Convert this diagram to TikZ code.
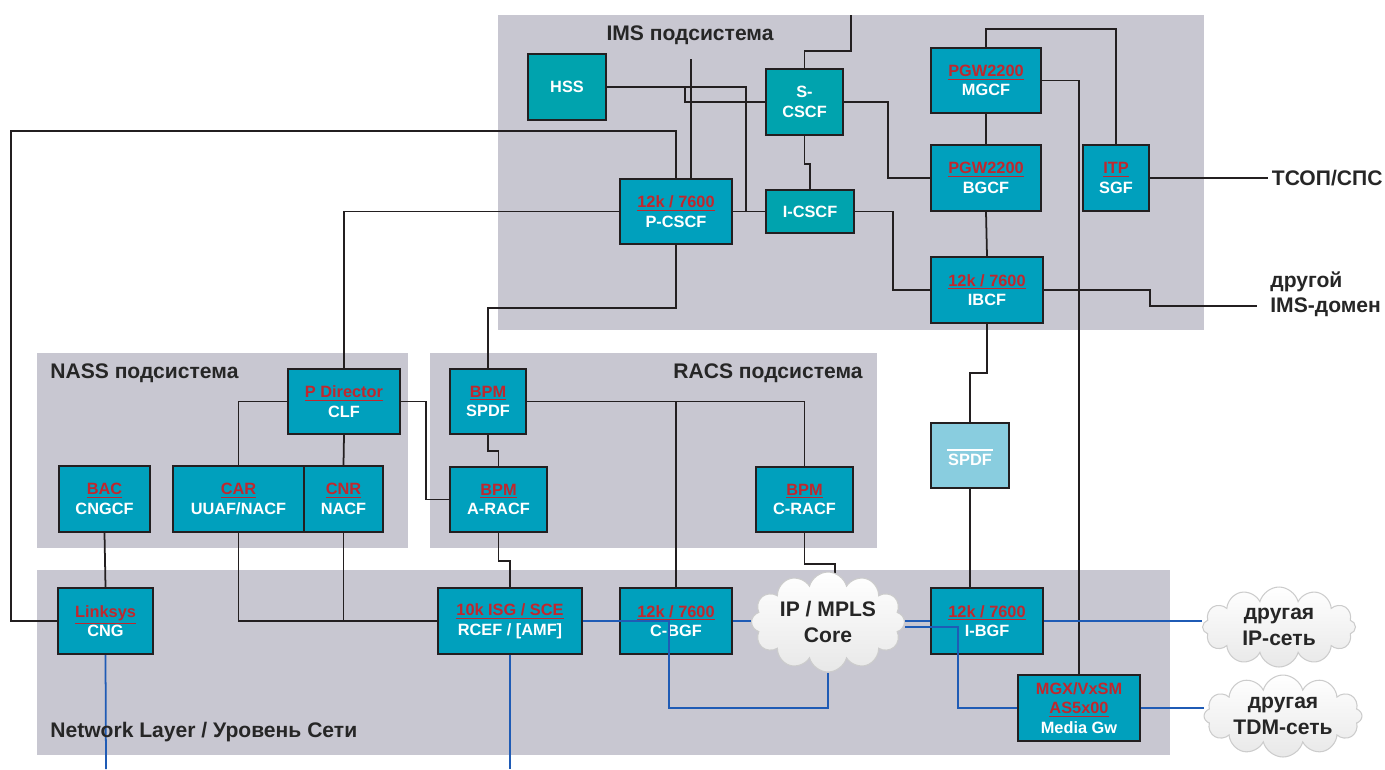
\documentclass[tikz,border=0pt]{standalone}
\usepackage{fontspec}
\setmainfont{Liberation Sans}
\usepackage{xcolor}
\usepackage{tikz}
\usetikzlibrary{shapes.symbols, positioning, calc}

\definecolor{subsys}{RGB}{200,199,209}
\definecolor{tealbox}{RGB}{0,163,174}
\definecolor{cyanbox}{RGB}{0,160,189}
\definecolor{lightbox}{RGB}{137,205,223}
\definecolor{devred}{RGB}{193,39,45}
\definecolor{ipblue}{RGB}{31,91,181}
\definecolor{edge}{RGB}{35,31,32}

\pgfdeclarelayer{regions}
\pgfdeclarelayer{wires}
\pgfdeclarelayer{front}
\pgfsetlayers{regions,wires,main,front}

\newcommand{\devlabel}[2]{\textcolor{devred}{\underline{#1}}\\#2}

\begin{document}
\begin{tikzpicture}[
        x=0.02cm, y=-0.02cm,
        % styles for the subsystems, the boxes and the links
        region/.style={fill=subsys, draw=none},
        title/.style={font=\fontsize{12}{14.4}\selectfont\bfseries, text=black!85, inner sep=0pt},
        box/.style={draw=edge, line width=1.3pt, fill=cyanbox, text=white, align=center, inner sep=1pt,
                    font=\fontsize{9.3}{11.2}\selectfont\bfseries},
        imsbox/.style={box, fill=tealbox},
        link/.style={draw=edge, line width=1pt},
        iplink/.style={draw=ipblue, line width=1pt},
        net/.style={cloud, cloud puffs=12, cloud ignores aspect, draw=gray!40, line width=0.6pt,
                    top color=white, bottom color=gray!18, inner sep=0pt},
        nettext/.style={align=center, text=black!85, font=\fontsize{12}{14.4}\selectfont\bfseries}
    ]
    \useasboundingbox (0,0) rectangle (1385,769);

    % subsystem areas
    \begin{pgfonlayer}{regions}
        \fill[region] (498,15) rectangle (1204,330);
        \fill[region] (37,353) rectangle (408,548);
        \fill[region] (430,353) rectangle (877,548);
        \fill[region] (37,570) rectangle (1170,755);
    \end{pgfonlayer}

    \node[title] (imstitle) at (690,35) {IMS подсистема};
    \node[title, anchor=west] (nasstitle) at (50,373) {NASS подсистема};
    \node[title, anchor=east] (racstitle) at (863,373) {RACS подсистема};
    \node[title, anchor=west] (nettitle) at (50,732) {Network Layer / Уровень Сети};

    % IMS
    \node[imsbox, minimum width=1.56cm, minimum height=1.32cm] (hss) at (567,87) {HSS};
    \node[imsbox, minimum width=1.54cm, minimum height=1.32cm] (scscf) at (804.5,102) {S-\\CSCF};
    \node[box, minimum width=2.24cm, minimum height=1.3cm] (pcscf) at (676,211.5) {\devlabel{12k / 7600}{P-CSCF}};
    \node[imsbox, minimum width=1.76cm, minimum height=0.86cm] (icscf) at (810,211.5) {I-CSCF};
    \node[box, minimum width=2.2cm, minimum height=1.3cm] (mgcf) at (986,80.5) {\devlabel{PGW2200}{MGCF}};
    \node[box, minimum width=2.2cm, minimum height=1.32cm] (bgcf) at (986,178) {\devlabel{PGW2200}{BGCF}};
    \node[box, minimum width=2.24cm, minimum height=1.32cm] (ibcf) at (987,290) {\devlabel{12k / 7600}{IBCF}};
    \node[box, minimum width=1.32cm, minimum height=1.32cm] (sgf) at (1116,178) {\devlabel{ITP}{SGF}};
    \node[box, fill=lightbox, minimum width=1.56cm, minimum height=1.3cm] (spdf) at (970,455.5) {\rule[-3pt]{0.92cm}{1.2pt}\\SPDF};

    \node[title, anchor=west, inner sep=2pt] (pstn) at (1268,178) {ТСОП/СПС};
    \node[title, anchor=west, align=left] (imsdom) at (1270,294) {другой\\IMS-домен};

    % NASS
    \node[box, minimum width=2.24cm, minimum height=1.3cm] (clf) at (344,401.5) {\devlabel{P Director}{CLF}};
    \node[box, minimum width=1.82cm, minimum height=1.32cm] (cngcf) at (104.5,499) {\devlabel{BAC}{CNGCF}};
    \node[box, minimum width=2.62cm, minimum height=1.32cm] (car) at (238.5,499) {\devlabel{CAR}{UUAF/NACF}};
    \node[box, minimum width=1.58cm, minimum height=1.32cm] (cnr) at (343.5,499) {\devlabel{CNR}{NACF}};

    % RACS
    \node[box, minimum width=1.52cm, minimum height=1.3cm] (bpmspdf) at (488,401.5) {\devlabel{BPM}{SPDF}};
    \node[box, minimum width=1.94cm, minimum height=1.3cm] (aracf) at (498.5,499.5) {\devlabel{BPM}{A-RACF}};
    \node[box, minimum width=1.94cm, minimum height=1.3cm] (cracf) at (804.5,499.5) {\devlabel{BPM}{C-RACF}};

    % network layer
    \node[box, minimum width=1.9cm, minimum height=1.32cm] (cng) at (105.5,621) {\devlabel{Linksys}{CNG}};
    \node[box, minimum width=2.88cm, minimum height=1.32cm] (rcef) at (510,621) {\devlabel{10k ISG / SCE}{RCEF / [AMF]}};
    \node[box, minimum width=2.24cm, minimum height=1.32cm] (cbgf) at (676,621) {\devlabel{12k / 7600}{C-BGF}};
    \node[box, minimum width=2.24cm, minimum height=1.32cm] (ibgf) at (987,621) {\devlabel{12k / 7600}{I-BGF}};
    \node[box, minimum width=2.44cm, minimum height=1.32cm] (mgw) at (1079,708) {\textcolor{devred}{MGX/VxSM}\\\devlabel{AS5x00}{Media Gw}};

    \node[net, minimum width=3.06cm, minimum height=2cm, label={[nettext]center:IP / MPLS\\Core}] (core) at (828,622) {};
    \node[net, minimum width=3.06cm, minimum height=1.6cm, label={[nettext]center:другая\\IP-сеть}] (ipnet) at (1279,627) {};
    \node[net, minimum width=3.16cm, minimum height=1.64cm, label={[nettext]center:другая\\TDM-сеть}] (tdmnet) at (1283,716) {};

    \coordinate (scscfin) at (851,15);
    \coordinate (pcscfin) at (691,59);
    \coordinate (cngdown) at (106,769);
    \coordinate (rcefdown) at (510,769);

    % signalling links
    \begin{pgfonlayer}{wires}
        \draw[link] (scscfin) -- ++(0,36) -| (scscf.north);
        \draw[link] (pcscfin) -- (pcscfin |- pcscf.north);
        \draw[link] (hss.east) -| ($(icscf.west)+(-19,0)$) -- (icscf.west);
        \draw[link] (hss.east) -| ($(scscf.west)+(-80,0)$) -- (scscf.west);
        \draw[link] (pcscf.east) -- (icscf.west);
        \draw[link] (scscf.south) -- ++(0,28) -| (icscf.north);
        \draw[link] (scscf.east) -- ++(44,0) |- (bgcf.west);
        \draw[link] (icscf.east) -- ++(38,0) |- (ibcf.west);
        \draw[link] (pcscf.north) |- (11,131) |- (cng.west);
        \draw[link] (pcscf.west) -| (clf.north);
        \draw[link] (pcscf.south) -- ++(0,63) -| (bpmspdf.north);
        \draw[link] (mgcf.north) -- ++(0,-18) -| (sgf.north);
        \draw[link] (mgcf.south) -- (bgcf.north);
        \draw[link] (bgcf.south) -- (ibcf.north);
        \draw[link] (mgcf.east) -| (mgw.north);
        \draw[link] (sgf.east) -- (pstn.west);
        \draw[link] (ibcf.east) -- ++(106,0) |- ($(imsdom.west)+(-13,12)$);
        \draw[link] (ibcf.south) -- ++(0,49) -| (spdf.north);
        \draw[link] (spdf.south) -- (spdf.south |- ibgf.north);
        \draw[link] (clf.west) -| (car.north);
        \draw[link] (clf.south) -- (cnr.north);
        \draw[link] (clf.east) -- ++(25,0) |- (aracf.west);
        \draw[link] (cngcf.south) -- (cng.north);
        \draw[link] (car.south) |- (rcef.west);
        \draw[link] (cnr.south) -- (cnr.south |- rcef.west);
        \draw[link] (bpmspdf.south) -- ++(0,16) -| (aracf.north);
        \draw[link] (bpmspdf.east) -| (cracf.north);
        \draw[link] (bpmspdf.east -| cbgf.north) -- (cbgf.north);
        \draw[link] (aracf.south) -- ++(0,28) -| (rcef.north);
        \draw[link] (cracf.south) -- ++(0,31) -| ($(core.north)+(7,3)$);
        % transport links
        \draw[iplink] (cng.south) -- (cngdown);
        \draw[iplink] (rcef.south) -- (rcefdown);
        \draw[iplink] (cbgf.east) -- (cbgf.east -| core.west);
        \draw[iplink] (ibgf.west -| core.east) -- (ibgf.west);
        \draw[iplink] (ibgf.east) -- (ibgf.east -| ipnet.west);
        \draw[iplink] (mgw.east) -- (mgw.east -| tdmnet.west);
    \end{pgfonlayer}

    \begin{pgfonlayer}{front}
        \draw[iplink] (rcef.east) -- ++(86,0) -- ++(0,87) -| (core.south);
        \draw[iplink] ($(core.east)+(0,5)$) -- ++(53,0) |- (mgw.west);
    \end{pgfonlayer}

\end{tikzpicture}
\end{document}
